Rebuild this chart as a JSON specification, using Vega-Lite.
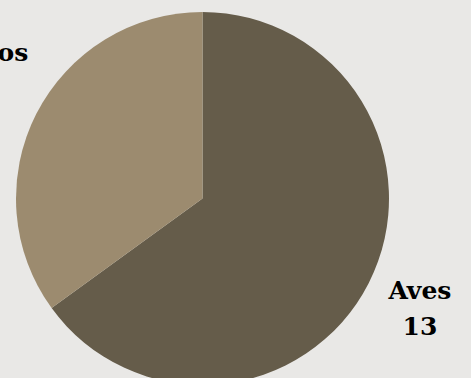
{
  "$schema": "https://vega.github.io/schema/vega-lite/v6.json",
  "width": 405,
  "height": 397,
  "autosize": "none",
  "padding": {"left": 0, "top": 0, "right": 66, "bottom": 0},
  "background": "#e9e8e6",
  "config": {"view": {"stroke": null}},
  "data": {"values": [
    {"animal": "Aves", "n": 13},
    {"animal": "Mamíferos", "n": 7}
  ]},
  "transform": [
    {"calculate": "datum.animal == 'Aves' ? datum.animal + '\\n' + datum.n : ''", "as": "labA"},
    {"calculate": "datum.animal == 'Mamíferos' ? datum.animal + '\\n' + datum.n : ''", "as": "labM"}
  ],
  "encoding": {
    "theta": {"field": "n", "type": "quantitative", "stack": true},
    "order": {"field": "animal", "sort": "ascending"},
    "color": {"field": "animal", "type": "nominal", "legend": null,
      "scale": {"domain": ["Aves", "Mamíferos"], "range": ["#655c4a", "#9c8b6f"]}}
  },
  "layer": [
    {"mark": {"type": "arc", "outerRadius": 186.5}},
    {"mark": {"type": "text", "radius": 244, "dy": -18, "font": "DejaVu Serif", "fontWeight": "bold", "fontSize": 25, "lineBreak": "\n", "lineHeight": 36, "align": "center", "baseline": "middle"},
     "encoding": {"text": {"field": "labA"}, "color": {"value": "#000000"}}},
    {"mark": {"type": "text", "radius": 280, "dy": -18, "font": "DejaVu Serif", "fontWeight": "bold", "fontSize": 25, "lineBreak": "\n", "lineHeight": 36, "align": "center", "baseline": "middle"},
     "encoding": {"text": {"field": "labM"}, "color": {"value": "#000000"}}}
  ]
}
